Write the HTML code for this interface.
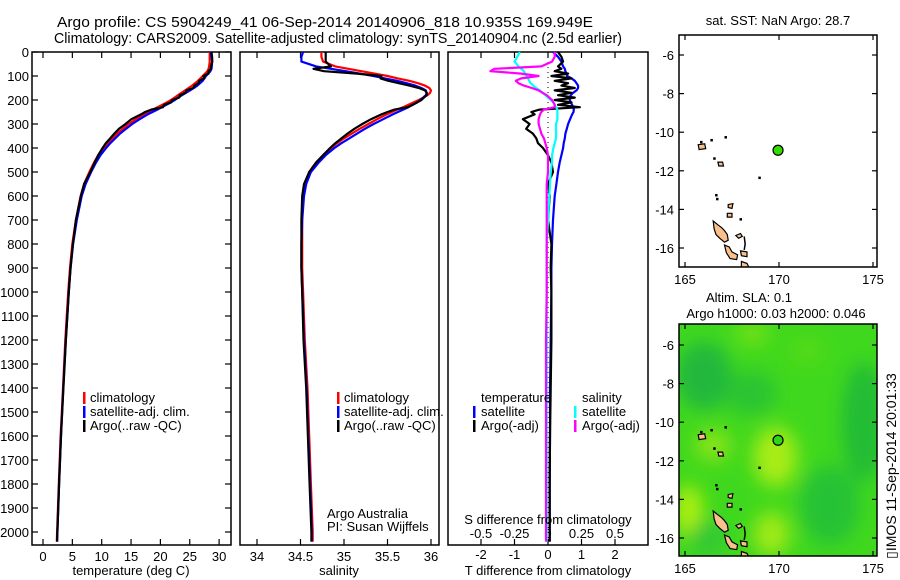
<!DOCTYPE html>
<html><head><meta charset="utf-8"><title>Argo profile</title>
<style>
html,body{margin:0;padding:0;background:#fff;}
svg{display:block;font-family:"Liberation Sans",sans-serif;}
text{fill:#000;}
</style></head>
<body>
<svg id="fig" width="900" height="580" viewBox="0 0 900 580" xmlns="http://www.w3.org/2000/svg">
<defs>
<filter id="blur" x="-50%" y="-50%" width="200%" height="200%"><feGaussianBlur stdDeviation="9"/></filter>
<clipPath id="clipM1"><rect x="679" y="35" width="198" height="232"/></clipPath>
<clipPath id="clipM2"><rect x="679" y="324" width="198" height="232"/></clipPath>
</defs>
<text x="57" y="27" font-size="15" textLength="536" lengthAdjust="spacingAndGlyphs">Argo profile: CS 5904249_41 06-Sep-2014 20140906_818 10.935S 169.949E</text>
<text x="54" y="43" font-size="15" textLength="568" lengthAdjust="spacingAndGlyphs">Climatology: CARS2009. Satellite-adjusted climatology: synTS_20140904.nc (2.5d earlier)</text>
<g id="layer"></g>
</svg>
<script>
// ---- profile data (depth in m) ----
const depth   = [0,20,40,60,70,80,90,100,110,120,130,140,150,160,170,180,190,200,210,220,230,240,250,260,280,300,320,340,360,380,400,430,460,500,550,600,700,800,900,1000,1200,1400,1600,1800,2000,2040];
const climT   = [28.4,28.4,28.4,28.3,28.2,28.0,27.6,27.2,26.8,26.4,25.9,25.4,24.8,24.2,23.6,23.0,22.4,21.8,21.1,20.3,19.5,18.7,17.9,17.1,15.8,14.6,13.6,12.6,11.8,11.0,10.3,9.4,8.7,7.9,7.0,6.4,5.6,5.0,4.6,4.3,3.8,3.4,3.0,2.7,2.4,2.35];
const satDT   = [0.15,0.3,0.4,0.45,0.5,0.52,0.55,0.57,0.7,0.8,0.85,0.9,0.9,0.85,0.75,0.68,0.65,0.65,0.68,0.72,0.75,0.77,0.76,0.72,0.66,0.6,0.56,0.52,0.5,0.47,0.45,0.4,0.35,0.3,0.25,0.2,0.15,0.12,0.1,0.1,0.08,0.06,0.06,0.05,0.05,0.05];
const argoDT  = [0.3,0.4,0.45,0.3,0.4,0.2,0.6,0.1,0.7,0.2,0.6,0.4,0.8,0.2,0.7,0.3,0.8,0.2,0.7,0.3,0.95,-0.25,-0.5,-0.4,-0.75,-0.55,-0.65,-0.45,-0.35,-0.3,-0.15,0.0,0.1,0.15,0.0,0.05,0.0,0.1,0.08,0.1,0.1,0.08,0.06,0.05,0.05,0.05];
const climS   = [34.74,34.74,34.76,34.9,35.05,35.2,35.35,35.5,35.62,35.75,35.85,35.93,35.98,36.0,35.99,35.96,35.91,35.86,35.8,35.74,35.68,35.61,35.55,35.49,35.38,35.28,35.18,35.09,35.0,34.92,34.85,34.76,34.68,34.6,34.55,34.53,34.52,34.52,34.52,34.53,34.55,34.58,34.6,34.62,34.64,34.64];
const satDS   = [-0.21,-0.23,-0.25,-0.22,-0.2,-0.18,-0.17,-0.16,-0.15,-0.14,-0.13,-0.11,-0.09,-0.06,-0.04,-0.02,0.0,0.02,0.04,0.05,0.06,0.07,0.07,0.07,0.07,0.06,0.06,0.06,0.06,0.05,0.04,0.03,0.03,0.02,0.015,0.01,0.0,-0.01,-0.01,-0.01,-0.01,-0.01,-0.01,-0.01,-0.01,-0.01];
const argoDS  = [0.05,0.05,0.03,-0.05,-0.4,-0.43,-0.2,-0.07,-0.2,-0.24,-0.22,-0.18,-0.12,-0.07,-0.04,-0.01,0.01,0.03,0.04,0.05,0.05,-0.03,-0.05,-0.06,-0.07,-0.07,-0.06,-0.05,-0.03,-0.02,-0.01,0.0,0.0,0.0,-0.01,-0.01,-0.01,-0.01,-0.01,-0.01,-0.015,-0.015,-0.015,-0.015,-0.015,-0.015];
// ---- axis tick labels ----
const depthTicks = [0,100,200,300,400,500,600,700,800,900,1000,1100,1200,1300,1400,1500,1600,1700,1800,1900,2000];
const tempTicks  = [0,5,10,15,20,25,30];
const salTicks   = [34,34.5,35,35.5,36];
const salTickLbl = ["34","34.5","35","35.5","36"];
const dTTicks    = [-2,-1,0,1,2];
const dSTicks    = [-0.5,-0.25,0,0.25,0.5];
const dSTickLbl  = ["-0.5","-0.25","0","0.25","0.5"];
const lonTicks   = [165,170,175];
const latTicks   = [-6,-8,-10,-12,-14,-16];
// ---- map data ----
const argoLon = 169.949, argoLat = -10.935;
const sstTitle = "sat. SST: NaN Argo: 28.7";

const NS="http://www.w3.org/2000/svg";
const L=document.getElementById('layer');
function mk(tag,attrs,parent){const e=document.createElementNS(NS,tag);for(const k in attrs)e.setAttribute(k,attrs[k]);(parent||L).appendChild(e);return e;}
function txt(x,y,s,size,anchor,parent){const t=mk('text',{x:x,y:y,'font-size':size||13,'text-anchor':anchor||'start'},parent);t.textContent=s;return t;}

const TOP=52, BOT=545;
const yD=d=>TOP+0.24*d;
const xT=t=>43+5.87*t;
const xS=s=>257+87*(s-34);
const xDT=v=>548+33.5*v;
const xDS=v=>548+134*v;
const xLon=lo=>685+18.8*(lo-165);
const yLat1=la=>55+19.3*(-6-la);
const yLat2=la=>345+19.3*(-6-la);

function line(xf, vals, color, name, w){
  let d='';
  vals.forEach((v,i)=>{ if(v==null) return; d+=(d?'L':'M')+xf(v).toFixed(1)+','+yD(depth[i]).toFixed(1); });
  const p=mk('path',{d:d,fill:'none',stroke:color,'stroke-width':w||2.2,'stroke-linejoin':'round'});
  
  
  return p;
}
function frame(x0,x1,y0,y1,name){
  const r=mk('rect',{x:x0,y:y0,width:x1-x0,height:y1-y0,fill:'none',stroke:'#000','stroke-width':1.5});
  
  
}
function vtick(x,y0,y1){mk('line',{x1:x,x2:x,y1:y0,y2:y1,stroke:'#000','stroke-width':1.2});}
function htick(y,x0,x1){mk('line',{x1:x0,x2:x1,y1:y,y2:y,stroke:'#000','stroke-width':1.2});}
function legendBar(x,y,color){mk('rect',{x:x,y:y-10,width:2.5,height:12,fill:color});}

// ===== Panel 1: temperature =====
frame(32,231,TOP,BOT,'temperature-panel-frame');
depthTicks.forEach(d=>{htick(yD(d),32,38);htick(yD(d),225,231);
  const t=txt(29,yD(d)+5,String(d),13,'end');
  
  });
tempTicks.forEach(v=>{vtick(xT(v),TOP,TOP+6);vtick(xT(v),BOT-6,BOT);
  const t=txt(xT(v),561,String(v),13,'middle');
  
  });
line(xT, climT, '#ff0000', 'climatology-temperature-line');
line(xT, climT.map((v,i)=>v+satDT[i]), '#0000ff', 'satellite-temperature-line');
line(xT, climT.map((v,i)=>v+argoDT[i]), '#000000', 'argo-temperature-line');
{const t=txt(131,575,'temperature (deg C)',13,'middle');}
[['climatology','#ff0000',402],['satellite-adj. clim.','#0000ff',416],['Argo(..raw -QC)','#000000',430]].forEach(r=>{
  legendBar(83,r[2],r[1]);const t=txt(90,r[2],r[0],13);});

// ===== Panel 2: salinity =====
frame(240,439,TOP,BOT,'salinity-panel-frame');
salTicks.forEach((v,i)=>{vtick(xS(v),TOP,TOP+6);vtick(xS(v),BOT-6,BOT);
  const t=txt(xS(v),561,salTickLbl[i],13,'middle');
  
  });
line(xS, climS, '#ff0000', 'climatology-salinity-line');
line(xS, climS.map((v,i)=>v+satDS[i]), '#0000ff', 'satellite-salinity-line');
line(xS, climS.map((v,i)=>v+argoDS[i]), '#000000', 'argo-salinity-line');
{const t=txt(339,575,'salinity',13,'middle');}
[['climatology','#ff0000',402],['satellite-adj. clim.','#0000ff',416],['Argo(..raw -QC)','#000000',430]].forEach(r=>{
  legendBar(337,r[2],r[1]);const t=txt(344,r[2],r[0],13);});
{const t=txt(327,518,'Argo Australia',13);
 const t2=txt(327,531,'PI: Susan Wijffels',13);}

// ===== Panel 3: differences =====
frame(448,648,TOP,BOT,'difference-panel-frame');
dTTicks.forEach(v=>{vtick(xDT(v),TOP,TOP+6);vtick(xDT(v),BOT-6,BOT);
  const t=txt(xDT(v),559,String(v),13,'middle');
  
  });
dSTicks.forEach((v,i)=>{const t=txt(xDS(v),538,dSTickLbl[i],13,'middle');
  
  });
mk('line',{x1:xDT(0),x2:xDT(0),y1:TOP,y2:BOT,stroke:'#000','stroke-width':1,'stroke-dasharray':'1,4'});
line(xDT, satDT, '#0000ff', 'satellite-t-difference-line');
line(xDT, argoDT, '#000000', 'argo-t-difference-line');
line(xDS, satDS, '#00ffff', 'satellite-s-difference-line');
line(xDS, argoDS, '#ff00ff', 'argo-s-difference-line');
{const t=txt(548,524,'S difference from climatology',13,'middle');
 const t2=txt(548,575,'T difference from climatology',13,'middle');}
{const a=txt(481,402,'temperature',13);
 const b=txt(582,402,'salinity',13);}
[['satellite','#0000ff',473,481,416],['Argo(-adj)','#000000',473,481,430],['satellite','#00ffff',574,582,416],['Argo(-adj)','#ff00ff',574,582,430]].forEach(r=>{
  legendBar(r[2],r[4],r[1]);const t=txt(r[3],r[4],r[0],13);});

// ===== Maps =====
const islands=[
 [[166.5,-14.6],[166.75,-14.8],[166.95,-14.95],[167.1,-15.1],[167.25,-15.3],[167.3,-15.6],[167.1,-15.7],[166.85,-15.5],[166.65,-15.3],[166.55,-15.0]],
 [[167.1,-15.85],[167.35,-15.95],[167.5,-16.2],[167.8,-16.35],[167.75,-16.6],[167.4,-16.55],[167.2,-16.25]],
 [[167.7,-15.35],[167.95,-15.25],[168.05,-15.4],[167.85,-15.5]],
 [[167.95,-16.15],[168.3,-16.2],[168.3,-16.45],[168.0,-16.4]],
 [[168.0,-16.7],[168.3,-16.8],[168.4,-17.0],[168.0,-17.0]],
 [[165.7,-10.65],[166.05,-10.6],[166.1,-10.85],[165.75,-10.9]],
 [[166.75,-11.55],[167.0,-11.55],[167.05,-11.75],[166.8,-11.75]],
 [[167.3,-13.75],[167.55,-13.7],[167.5,-13.95],[167.3,-13.9]],
 [[167.25,-14.2],[167.5,-14.2],[167.5,-14.4],[167.25,-14.4]]
];
const specks=[[166.35,-10.35],[167.1,-10.2],[166.5,-11.3],[166.6,-13.2],[166.65,-13.4],[168.9,-12.3],[167.9,-14.45],[165.8,-10.45]];
function drawMap(yLat,top,clip,name,colored){
  const g=mk('g',{'clip-path':'url(#'+clip+')'});
  
  
  if(colored){
    mk('rect',{x:679,y:top,width:198,height:232,fill:'#40d81e'},g);
    const bg=mk('g',{filter:'url(#blur)'},g);
    [[166,-7.6,28,34,'#20b83c'],[174.5,-10,22,60,'#24bc36'],[172.7,-14.3,30,40,'#28c234'],[168.5,-8.5,26,22,'#2cc432'],
     [169.8,-11.8,22,30,'#a8ec12'],[169.6,-15.8,18,22,'#a0ea14'],[165.2,-14.6,14,26,'#b0f010'],[166.5,-11.2,18,16,'#88e414'],
     [166.2,-16,18,18,'#30c836'],[168.6,-5.4,18,12,'#70e016'],[171.5,-6.3,16,14,'#55da18']].forEach(b=>{
      mk('ellipse',{cx:xLon(b[0]),cy:yLat(b[1]),rx:b[2],ry:b[3],fill:b[4]},bg);});
  }
  islands.forEach(p=>{mk('polygon',{points:p.map(q=>xLon(q[0]).toFixed(1)+','+yLat(q[1]).toFixed(1)).join(' '),fill:'#f9c08c',stroke:'#000','stroke-width':1.2},g);});
  mk('path',{d:'M'+xLon(168.15)+','+yLat(-15.4)+'L'+xLon(168.2)+','+yLat(-15.8)+'L'+xLon(168.15)+','+yLat(-16.1),fill:'none',stroke:'#000','stroke-width':1.5},g);
  specks.forEach(s=>{mk('rect',{x:xLon(s[0]),y:yLat(s[1]),width:2.5,height:2.5,fill:'#000'},g);});
  const c=mk('circle',{cx:xLon(argoLon),cy:yLat(argoLat),r:5,fill:colored?'#2ed61a':'#33dd00',stroke:'#000','stroke-width':1.2});
  
  
  frame(679,877,top,top+232,name+'-frame');
  lonTicks.forEach(lo=>{vtick(xLon(lo),top,top+5);vtick(xLon(lo),top+227,top+232);
    const t=txt(xLon(lo),top+249,String(lo),13,'middle');
    
    });
  latTicks.forEach(la=>{htick(yLat(la),679,684);htick(yLat(la),872,877);
    const t=txt(674,yLat(la)+5,String(la),13,'end');
    
    });
}
drawMap(yLat1,35,'clipM1','sst-map',false);
drawMap(yLat2,324,'clipM2','sla-map',true);
{const t=txt(778,25,sstTitle,13,'middle');
 const a=txt(749,302,'Altim. SLA: 0.1',13,'middle');
 const b=txt(776,318,'Argo h1000: 0.03 h2000: 0.046',13,'middle');
 const r=txt(0,0,'\u25AFIMOS 11-Sep-2014 20:01:33',14,'middle');r.setAttribute('transform','translate(896,466) rotate(-90)');
 }
</script>
</body></html>
